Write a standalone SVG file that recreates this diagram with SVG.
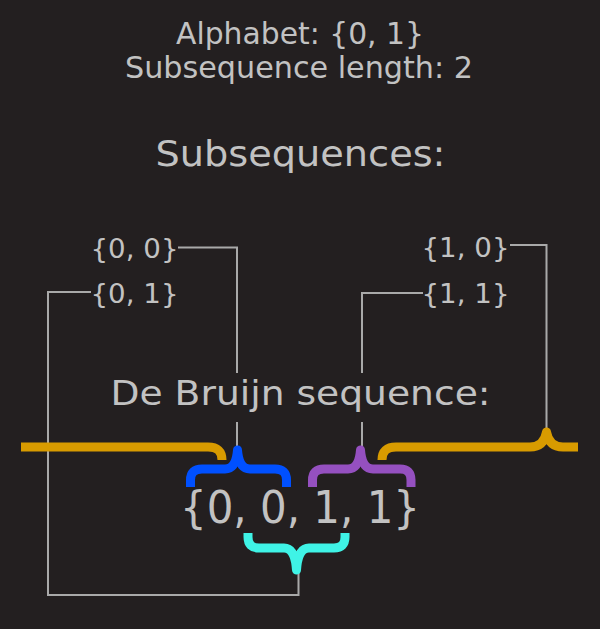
<svg xmlns="http://www.w3.org/2000/svg" width="600" height="629" viewBox="0 0 600 629">
<style>
  text { font-family: "DejaVu Sans", "Liberation Sans", sans-serif; fill: #c2c2c2; text-anchor: middle; }
  .conn { fill: none; stroke: #a9a9a9; stroke-width: 2; }
  .brace { fill: none; stroke-width: 9; stroke-linecap: butt; stroke-linejoin: round; }
</style>
<rect x="0" y="0" width="600" height="629" fill="#231f20"/>
<g id="connectors">
  <path class="conn" d="M178,247.5 H237 V373 M237,422 V452"/>
  <path class="conn" d="M91,292 H48 V595 H298.5 V568"/>
  <path class="conn" d="M423,293 H362 V373 M362,422 V452"/>
  <path class="conn" d="M510,245 H546.5 V434"/>
</g>
<g id="header">
  <text x="300" y="44" font-size="31" textLength="248" lengthAdjust="spacingAndGlyphs">Alphabet: {0, 1}</text>
  <text x="299" y="78" font-size="31" textLength="348" lengthAdjust="spacingAndGlyphs">Subsequence length: 2</text>
</g>
<g id="subsequences-title">
  <text x="300.5" y="166" font-size="35" textLength="290" lengthAdjust="spacingAndGlyphs">Subsequences:</text>
</g>
<g id="sub-00"><text x="134.5" y="258" font-size="27" textLength="88" lengthAdjust="spacingAndGlyphs">{0, 0}</text></g>
<g id="sub-01"><text x="134.5" y="303" font-size="27" textLength="88" lengthAdjust="spacingAndGlyphs">{0, 1}</text></g>
<g id="sub-10"><text x="465.5" y="257" font-size="27" textLength="88" lengthAdjust="spacingAndGlyphs">{1, 0}</text></g>
<g id="sub-11"><text x="465.5" y="303" font-size="27" textLength="88" lengthAdjust="spacingAndGlyphs">{1, 1}</text></g>
<g id="debruijn-title">
  <text x="300.5" y="405" font-size="33" textLength="380" lengthAdjust="spacingAndGlyphs">De Bruijn sequence:</text>
</g>
<g id="sequence">
  <text x="300" y="523" font-size="45" textLength="240" lengthAdjust="spacingAndGlyphs">{0, 0, 1, 1}</text>
</g>
<g id="braces">
  <path id="brace-10" class="brace" stroke="#d89b00" d="M21,447 H208 Q222,447 222,460 M382,460 Q382,447 396,447 H530 Q544,447 546.5,432 Q549,447 563,447 H578"/>
  <path id="brace-00" class="brace" stroke="#0050ff" d="M190.5,487 V480 Q190.5,469 202,469 H225 Q236,469 237.5,450 Q239,469 250,469 H275 Q286.5,469 286.5,480 V487"/>
  <path id="brace-11" class="brace" stroke="#9550c0" d="M312.5,487 V480 Q312.5,469 324,469 H348 Q359,469 360.5,450 Q362,469 373,469 H400 Q411,469 411,480 V487"/>
  <path id="brace-01" class="brace" stroke="#3ff3e6" d="M248,533 V537 Q248,548 259,548 H284 Q295,548 296.5,570 Q298,548 309,548 H334 Q345,548 345,537 V533"/>
</g>
</svg>
